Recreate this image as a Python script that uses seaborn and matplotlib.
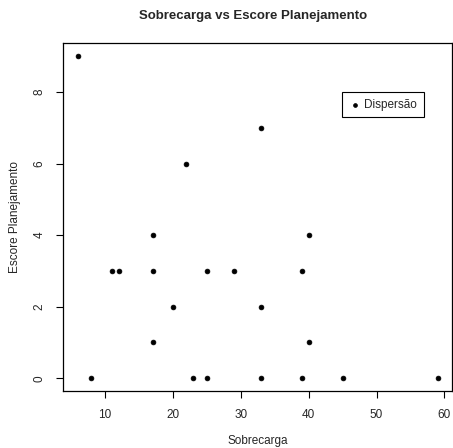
import matplotlib
matplotlib.use("Agg")
import matplotlib.pyplot as plt
import seaborn as sns
import pandas as pd

sobrecarga = [6, 22, 17, 11, 12, 17, 25, 29, 20, 17, 8, 23, 25, 33, 40, 39, 33, 40, 33, 39, 45, 59]
escore = [9, 6, 4, 3, 3, 3, 3, 3, 2, 1, 0, 0, 0, 7, 4, 3, 2, 1, 0, 0, 0, 0]
xticks = [10, 20, 30, 40, 50, 60]
yticks = [0, 2, 4, 6, 8]

df = pd.DataFrame({"Sobrecarga": sobrecarga, "Escore Planejamento": escore})

sns.set_style("white")
plt.rcParams['font.family'] = ['Liberation Sans', 'DejaVu Sans']

fig = plt.figure(figsize=(4.53, 4.48), dpi=100)
ax = fig.add_axes([0.140, 0.127, 0.858, 0.776])

sns.scatterplot(data=df, x="Sobrecarga", y="Escore Planejamento", ax=ax,
                color="black", marker="o", s=12, edgecolor="black", linewidth=0.5,
                label="Dispersão")

xmin, xmax = min(sobrecarga), max(sobrecarga)
ymin, ymax = min(escore), max(escore)
dx = (xmax - xmin) * 0.04
dy = (ymax - ymin) * 0.04
ax.set_xlim(xmin - dx, xmax + dx)
ax.set_ylim(ymin - dy, ymax + dy)
ax.set_xticks(xticks)
ax.set_yticks(yticks)
ax.set_xticklabels([str(t) for t in xticks], fontsize=8.5)
ax.set_yticklabels([str(t) for t in yticks], fontsize=8.5, rotation=90, va="center")
ax.tick_params(axis="both", direction="out", length=5, width=0.8, color="black",
               bottom=True, left=True, pad=8)
for sp in ax.spines.values():
    sp.set_visible(True)
    sp.set_color("black")
    sp.set_linewidth(0.9)

ax.set_xlabel("Sobrecarga", fontsize=8.5, labelpad=10)
ax.set_ylabel("Escore Planejamento", fontsize=8.5, labelpad=9)
fig.text(0.559, 0.965, "Sobrecarga vs Escore Planejamento", ha="center", va="center",
         fontsize=9.5, fontweight="bold")

leg = ax.legend(loc="upper left", bbox_to_anchor=(0.718, 0.859), borderaxespad=0,
                fancybox=False, edgecolor="black", framealpha=1, fontsize=8.5,
                handletextpad=0.3, markerscale=0.8, handlelength=1.0,
                borderpad=0.55)
leg.get_frame().set_linewidth(0.8)

fig.savefig("out.png", dpi=100)
